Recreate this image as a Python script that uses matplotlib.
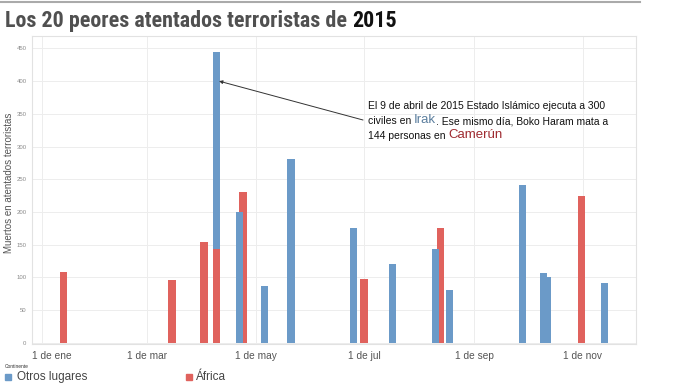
import numpy as np
import matplotlib
matplotlib.use("Agg")
import matplotlib.pyplot as plt
import matplotlib.dates as mdates
import matplotlib.transforms as mtrans
from matplotlib import font_manager
from matplotlib.patches import Rectangle
from matplotlib.lines import Line2D

# --- data ---
africa_dates = ["2015-01-13", "2015-03-15", "2015-04-02", "2015-04-09",
                "2015-04-24", "2015-07-01", "2015-08-13", "2015-10-31"]
africa_deaths = [108, 96, 154, 144, 231, 97, 175, 224]

otros_dates = ["2015-04-09", "2015-04-22", "2015-05-06", "2015-05-21",
               "2015-06-25", "2015-07-17", "2015-08-10", "2015-08-18",
               "2015-09-28", "2015-10-10", "2015-10-12", "2015-11-13"]
otros_deaths = [300, 200, 87, 281, 175, 121, 143, 81, 241, 106, 100, 92]

tick_dates = ["2015-01-01", "2015-03-01", "2015-05-01",
              "2015-07-01", "2015-09-01", "2015-11-01"]
tick_labels = ["1 de ene", "1 de mar", "1 de may",
               "1 de jul", "1 de sep", "1 de nov"]

blue = "#6b9ac8"
red = "#e0625d"
W, H = 688, 387

# narrow bold face for the title if we have one
names = {f.name for f in font_manager.fontManager.ttflist}
if "Roboto Condensed" in names:
    title_kw = dict(family="Roboto Condensed", fontsize=15.8)
else:
    title_kw = dict(family="DejaVu Sans", fontstretch="condensed",
                    fontsize=12.4)

def dnum(s):
    return mdates.date2num(np.datetime64(s))

fig = plt.figure(figsize=(W / 100, H / 100), dpi=100)
ax = fig.add_axes([32 / W, 1 - 344 / H, (636 - 32) / W, (344 - 36) / H])

xa = [dnum(d) for d in africa_dates]
xo = [dnum(d) for d in otros_dates]
# bars on the same day stack (Africa at the bottom)
base = dict(zip(africa_dates, africa_deaths))
bottoms = [base.get(d, 0) for d in otros_dates]

ax.bar(xa, africa_deaths, width=4.1, color=red, zorder=2)
ax.bar(xo, otros_deaths, width=4.1, bottom=bottoms, color=blue, zorder=3)

jan1 = dnum("2015-01-01")
ax.set_xlim(jan1 - 5.6, jan1 + 333.8)
ax.set_ylim(-2, 469)

ax.set_xticks([dnum(d) for d in tick_dates])
ax.set_xticklabels(tick_labels, fontsize=7.3, color="#555555",
                   family="Liberation Sans")
ax.set_yticks(np.arange(0, 451, 50))
ax.set_yticklabels([str(v) for v in range(0, 451, 50)], fontsize=4.3,
                   color="#8a8a8a", family="Liberation Sans")
ax.tick_params(length=0, pad=4)
ax.tick_params(axis="x", pad=5)

# first label sits a bit right of its tick, like the original
lab = ax.xaxis.get_major_ticks()[0].label1
lab.set_transform(lab.get_transform() +
                  mtrans.ScaledTranslation(10 / 100, 0, fig.dpi_scale_trans))

ax.grid(True, color="#ededed", lw=0.7, zorder=0)
for s in ax.spines.values():
    s.set_color("#e2e2e2")
    s.set_linewidth(0.8)

ax.set_ylabel("Muertos en atentados terroristas", fontsize=7, color="#555555",
              family="Liberation Sans")
ax.yaxis.set_label_coords(-18 / 604, 0.523)

# title + top rule
fig.add_artist(Line2D([0, 640 / W], [1 - 2 / H, 1 - 2 / H],
                      color="#aaaaaa", lw=1.5, transform=fig.transFigure))
t1 = fig.text(5 / W, 1 - 21 / H, "Los 20 peores atentados terroristas de ",
              fontweight="bold", color="#505050", va="center", **title_kw)
ax.annotate("2015", xy=(1, 0), xycoords=t1, va="bottom", ha="left",
            fontweight="bold", color="#111111", annotation_clip=False,
            **title_kw)

# annotation
ax.annotate("", xy=(dnum("2015-04-09") + 1.5, 400),
            xytext=(363 / W, 1 - 120 / H), textcoords="figure fraction",
            arrowprops=dict(arrowstyle="-|>", color="#333333", lw=0.7,
                            mutation_scale=5, shrinkA=0, shrinkB=0))
note_kw = dict(fontsize=7.45, family="Liberation Sans", color="#111111")
fig.text(368 / W, 1 - 106 / H,
         "El 9 de abril de 2015 Estado Islámico ejecuta a 300",
         va="center", **note_kw)
l2 = fig.text(368 / W, 1 - 121 / H, "civiles en ", va="center", **note_kw)
l2b = ax.annotate("Irak", xy=(1, 0), xycoords=l2, va="bottom",
                  fontsize=9.5, family="Liberation Sans", color="#5c7f9e",
                  annotation_clip=False)
ax.annotate(". Ese mismo día, Boko Haram mata a", xy=(1, 0), xycoords=l2b,
            va="bottom", annotation_clip=False, **note_kw)
l3 = fig.text(368 / W, 1 - 136 / H, "144 personas en ", va="center", **note_kw)
ax.annotate("Camerún", xy=(1, 0), xycoords=l3, va="bottom",
            fontsize=9.5, family="Liberation Sans", color="#9e2a30",
            annotation_clip=False)

# legend
fig.text(5 / W, 1 - 366 / H, "Continente", fontsize=3.5, color="#333333",
         family="Liberation Sans", va="center")
fig.add_artist(Rectangle((5 / W, 1 - 380 / H), 6 / W, 6 / H,
                         color=blue, transform=fig.transFigure))
fig.text(17 / W, 1 - 377 / H, "Otros lugares", fontsize=8.5, color="#444444",
         family="Liberation Sans", va="center")
fig.add_artist(Rectangle((186 / W, 1 - 380 / H), 6 / W, 6 / H,
                         color=red, transform=fig.transFigure))
fig.text(196 / W, 1 - 377 / H, "África", fontsize=8.5, color="#444444",
         family="Liberation Sans", va="center")

fig.savefig("out.png", dpi=100)
